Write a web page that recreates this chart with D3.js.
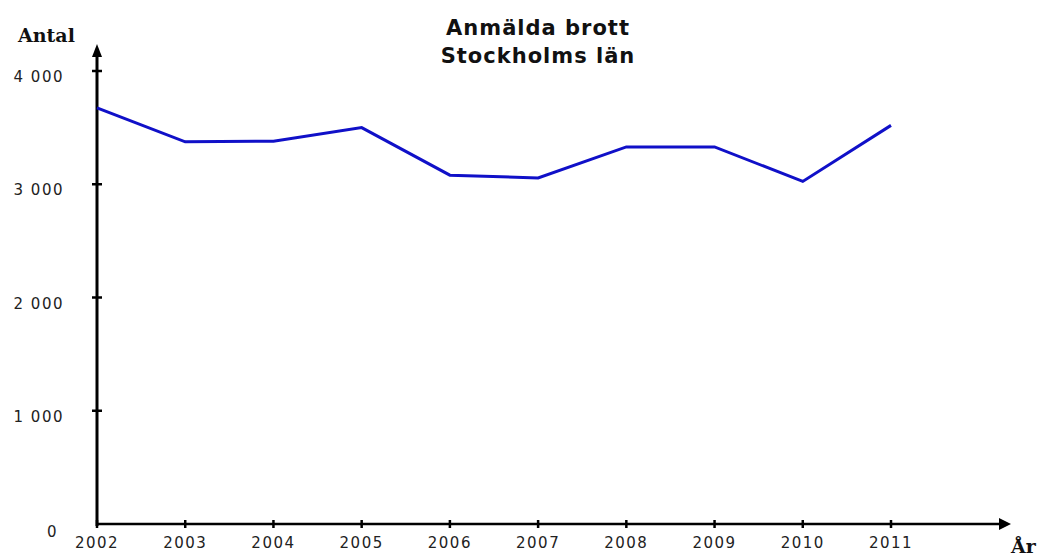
<!DOCTYPE html>
<html>
<head>
<meta charset="utf-8">
<script src="https://cdn.jsdelivr.net/npm/d3@7"></script>
<style>
  body { margin: 0; background: #fff; }
  text { font-family: "DejaVu Sans", sans-serif; }
</style>
</head>
<body>
<div id="chart"></div>
<script>
const years = [2002, 2003, 2004, 2005, 2006, 2007, 2008, 2009, 2010, 2011];
const brott = [3675, 3375, 3380, 3500, 3080, 3055, 3330, 3330, 3025, 3520];
const yTicks = [0, 1000, 2000, 3000, 4000];
const titleLines = ["Anmälda brott", "Stockholms län"];

const W = 1043, H = 556;
const x0 = 97, y0 = 524;

const x = d3.scaleLinear().domain([2002, 2011]).range([x0, 891]);
const y = d3.scaleLinear().domain([0, 4000]).range([y0, 71]);

const svg = d3.select("#chart").append("svg")
  .attr("width", W)
  .attr("height", H);

const fmt = (d) => d3.format(",")(d).replace(",", " ");

// axes (drawn by hand to get the arrow look)
svg.append("line")
  .attr("x1", x0).attr("x2", 1000)
  .attr("y1", y0).attr("y2", y0)
  .attr("stroke", "#000").attr("stroke-width", 2.5);
svg.append("path")
  .attr("d", `M1011,${y0} L999,${y0 - 6} L999,${y0 + 6} Z`)
  .attr("fill", "#000");

svg.append("line")
  .attr("x1", x0).attr("x2", x0)
  .attr("y1", y0 + 2).attr("y2", 55)
  .attr("stroke", "#000").attr("stroke-width", 3);
svg.append("path")
  .attr("d", `M${x0},44 L${x0 - 5},57 L${x0 + 5},57 Z`)
  .attr("fill", "#000");

// x ticks
svg.selectAll(".xt").data(years).join("line")
  .attr("x1", (d) => x(d)).attr("x2", (d) => x(d))
  .attr("y1", y0 - 4).attr("y2", y0 + 4)
  .attr("stroke", "#000").attr("stroke-width", 2.5);

svg.selectAll(".xl").data(years).join("text")
  .attr("x", (d) => x(d))
  .attr("y", y0 + 24)
  .attr("text-anchor", "middle")
  .attr("font-size", 15)
  .attr("letter-spacing", 1.5)
  .attr("fill", "#222")
  .text((d) => d);

// y ticks
svg.selectAll(".yt").data(yTicks.filter((d) => d > 0)).join("line")
  .attr("x1", x0 - 5).attr("x2", x0 + 5)
  .attr("y1", (d) => y(d)).attr("y2", (d) => y(d))
  .attr("stroke", "#000").attr("stroke-width", 2.5);

svg.selectAll(".yl").data(yTicks).join("text")
  .attr("x", (d) => (d === 0 ? 58 : 64))
  .attr("y", (d) => y(d) + (d === 0 ? 13 : 11))
  .attr("text-anchor", "end")
  .attr("font-size", 15)
  .attr("letter-spacing", 1.5)
  .attr("fill", "#222")
  .text(fmt);

// line
const line = d3.line()
  .x((d, i) => x(years[i]))
  .y((d) => y(d));

svg.append("path")
  .datum(brott)
  .attr("d", line)
  .attr("fill", "none")
  .attr("stroke", "#1010c8")
  .attr("stroke-width", 3);

// titles
svg.append("text")
  .attr("x", 538).attr("y", 0)
  .attr("text-anchor", "middle")
  .attr("font-size", 21)
  .attr("font-weight", "bold")
  .attr("letter-spacing", 1)
  .attr("fill", "#111")
  .selectAll("tspan").data(titleLines).join("tspan")
  .attr("x", 538)
  .attr("y", (d, i) => 35 + i * 28)
  .text((d) => d);

svg.append("text")
  .attr("x", 18).attr("y", 42)
  .style("font-family", "'DejaVu Serif', serif")
  .attr("font-size", 19)
  .attr("font-weight", "bold")
  .attr("fill", "#111")
  .text("Antal");

svg.append("text")
  .attr("x", 1011).attr("y", 553)
  .style("font-family", "'DejaVu Serif', serif")
  .attr("font-size", 19)
  .attr("font-weight", "bold")
  .attr("fill", "#111")
  .text("År");
</script>
</body>
</html>
